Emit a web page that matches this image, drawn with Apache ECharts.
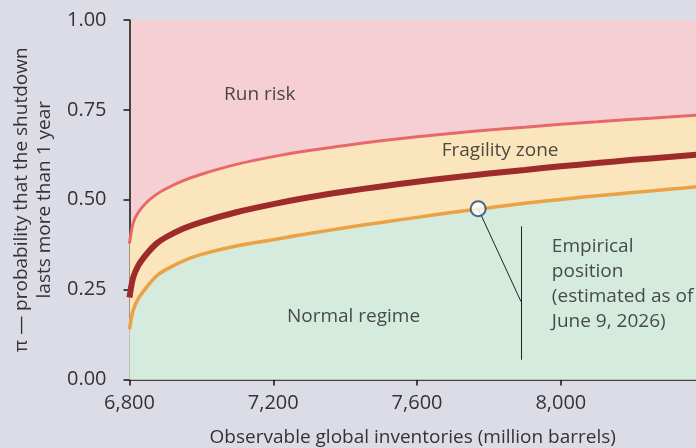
<!DOCTYPE html>
<html>
<head>
<meta charset="utf-8">
<script src="https://cdn.jsdelivr.net/npm/echarts@6/dist/echarts.min.js"></script>
<style>
html,body{margin:0;padding:0;background:#dcdce6;}
#c{width:696px;height:448px;}
</style>
</head>
<body>
<div id="c"></div>
<script>
// Data
var inventories = [6800, 6810, 6825, 6850, 6875, 6900, 6950, 7000, 7100, 7200, 7300, 7400, 7500, 7600, 7700, 7800, 7900, 8000, 8100, 8200, 8300, 8400];
var runRiskThreshold = [0.378, 0.435, 0.466, 0.495, 0.515, 0.530, 0.553, 0.571, 0.599, 0.620, 0.637, 0.651, 0.664, 0.675, 0.685, 0.694, 0.702, 0.710, 0.717, 0.724, 0.730, 0.737];
var centralEstimate = [0.228, 0.283, 0.318, 0.352, 0.378, 0.395, 0.420, 0.438, 0.466, 0.488, 0.507, 0.523, 0.537, 0.550, 0.562, 0.573, 0.583, 0.593, 0.602, 0.611, 0.619, 0.627];
var normalThreshold = [0.140, 0.192, 0.226, 0.260, 0.288, 0.305, 0.330, 0.348, 0.372, 0.389, 0.406, 0.422, 0.437, 0.451, 0.465, 0.478, 0.490, 0.501, 0.511, 0.520, 0.529, 0.538];
var empiricalPoint = [7770, 0.475];
var xTicks = [6800, 7200, 7600, 8000];
var xMax = 8376;

function pairs(xs, ys){ return xs.map(function(x,i){ return [x, ys[i]]; }); }

var FONT = 'Open Sans';
var chart = echarts.init(document.getElementById('c'));
chart.setOption({
  backgroundColor: '#dcdce6',
  animation: false,
  textStyle: {fontFamily: FONT},
  grid: {left: 129.5, top: 20, bottom: 68.5, right: 0, show: true, backgroundColor: '#f6cfd4', borderWidth: 0,
    containLabel: false, outerBoundsMode: 'none'},
  xAxis: {
    type: 'value', min: 6800, max: xMax, interval: 400,
    name: 'Observable global inventories (million barrels)',
    nameLocation: 'middle', nameGap: 49,
    nameTextStyle: {fontSize: 19, color: '#333', fontFamily: FONT},
    axisLine: {show: true, lineStyle: {color: '#111', width: 1.5}},
    axisTick: {show: true, length: 6, lineStyle: {color: '#111', width: 1.5}},
    axisLabel: {fontSize: 20, color: '#333', margin: 14, fontFamily: FONT, showMaxLabel: false,
      formatter: function(v){ return xTicks.indexOf(v) >= 0 ? v.toLocaleString('en-US') : ''; }},
    splitLine: {show: false}
  },
  yAxis: {
    type: 'value', min: 0, max: 1, interval: 0.25,
    name: 'π — probability that the shutdown\nlasts more than 1 year',
    nameLocation: 'middle', nameGap: 72, nameRotate: 90,
    nameTextStyle: {fontSize: 19, color: '#333', lineHeight: 23, fontFamily: FONT},
    axisLine: {show: true, lineStyle: {color: '#111', width: 1.5}},
    axisTick: {show: true, length: 6, lineStyle: {color: '#111', width: 1.5}},
    axisLabel: {fontSize: 20, color: '#333', margin: 23, fontFamily: FONT,
      formatter: function(v){ return v.toFixed(2); }},
    splitLine: {show: false}
  },
  series: [
    {type: 'line', name: 'Run risk threshold', data: pairs(inventories, runRiskThreshold), smooth: 0.3, showSymbol: false,
      lineStyle: {color: '#e8686a', width: 3}, areaStyle: {color: '#fbe5bd', opacity: 1}, z: 2},
    {type: 'line', name: 'Normal threshold', data: pairs(inventories, normalThreshold), smooth: 0.3, showSymbol: false,
      lineStyle: {color: '#eba244', width: 3.5}, areaStyle: {color: '#d5ebde', opacity: 1}, z: 3},
    {type: 'line', name: 'Central', data: pairs(inventories, centralEstimate), smooth: 0.3, showSymbol: false,
      lineStyle: {color: '#9e2a2a', width: 6}, z: 4},
    {type: 'scatter', name: 'labels', symbolSize: 0, z: 5, silent: true,
      data: [
        {value: [7063, 0.792], label: {show: true, formatter: 'Run risk', position: 'right', distance: 0}},
        {value: [7831, 0.636], label: {show: true, formatter: 'Fragility zone', position: 'inside'}},
        {value: [7238, 0.175], label: {show: true, formatter: 'Normal regime', position: 'right', distance: 0}},
        {value: [7975, 0.405], label: {show: true, formatter: 'Empirical\nposition\n(estimated as of\nJune 9, 2026)', position: 'right', distance: 0, verticalAlign: 'top', lineHeight: 25, align: 'left'}}
      ],
      label: {fontSize: 19, color: '#222', fontFamily: FONT},
      markLine: {silent: true, symbol: 'none', lineStyle: {color: '#222', width: 1, type: 'solid'}, label: {show: false},
        data: [
          [{coord: [7770, 0.475]}, {coord: [7889, 0.217]}],
          [{coord: [7889, 0.426]}, {coord: [7889, 0.055]}]
        ]}
    },
    {type: 'scatter', name: 'Empirical position', data: [empiricalPoint], symbol: 'circle', symbolSize: 15, z: 6,
      itemStyle: {color: '#ffffff', borderColor: '#1d4877', borderWidth: 2}}
  ]
});
</script>
</body>
</html>
